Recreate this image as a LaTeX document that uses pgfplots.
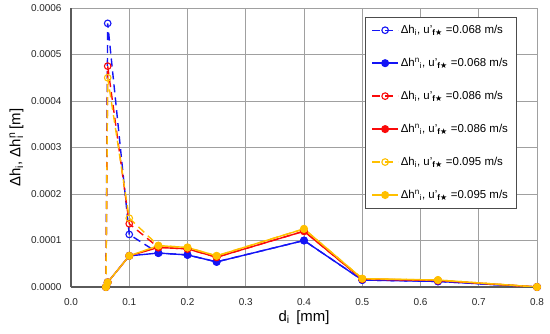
\documentclass[border=0pt]{standalone}
\usepackage{fontspec}
\setmainfont{Liberation Sans}
\newfontfamily\djv{DejaVu Sans}
\usepackage{pgfplots}
\pgfplotsset{compat=1.18}
\definecolor{cblue}{RGB}{20,20,245}
\definecolor{cred}{RGB}{250,10,10}
\definecolor{cyel}{RGB}{255,192,0}
\definecolor{gridc}{RGB}{160,160,160}
\definecolor{axc}{RGB}{90,90,90}
\newcommand{\uf}{u'\textsubscript{\textbf{f}{\djv ★}}}
\begin{document}
\begin{tikzpicture}
\useasboundingbox (-71bp,-47bp) rectangle (479bp,287bp);
\begin{axis}[
  scale only axis, width=466bp, height=279bp,
  xmin=0, xmax=0.8, ymin=0, ymax=0.0006,
  xtick={0,0.1,...,0.8}, ytick={0,0.0001,...,0.0006},
  scaled y ticks=false, scaled x ticks=false,
  /pgf/number format/assume math mode=true,
  xticklabel style={/pgf/number format/fixed,/pgf/number format/fixed zerofill,/pgf/number format/precision=1, yshift=-8bp},
  yticklabel style={/pgf/number format/fixed,/pgf/number format/fixed zerofill,/pgf/number format/precision=4, xshift=-6bp},
  tick label style={font=\fontsize{10}{12}\selectfont, text=black!85},
  major tick length=0pt,
  grid=major, major grid style={gridc, line width=0.8bp},
  axis x line*=bottom, axis y line*=left,
  axis line style={axc, line width=1.6bp, -},
  xlabel={d\textsubscript{i}\, [mm]}, ylabel={Δh\textsubscript{i}, Δh\rlap{\textsuperscript{n}}\textsubscript{i}\, [m]},
  label style={font=\fontsize{15}{18}\selectfont},
  xlabel style={at={(axis description cs:0.5,0)}, anchor=north, yshift=-20bp},
  ylabel style={at={(axis description cs:0,0.5)}, anchor=south, yshift=44bp, xshift=0bp},
  legend style={at={(0.631,0.968)}, anchor=north west, font=\fontsize{11.5}{14}\selectfont,
    draw=black!70, line width=0.8bp, row sep=19bp, inner sep=6bp,
    cells={anchor=west}},
  legend image code/.code={
    \draw[#1] (0bp,0bp) -- (26bp,0bp);
    \draw[#1, solid] plot coordinates {(13bp,0bp)};
  },
  every axis plot/.append style={line width=1.4bp, mark size=3.3bp},
  op/.style={dash pattern=on 8bp off 5bp, mark=o, mark options={solid, line width=1.1bp, fill=white}},
  fi/.style={solid, mark=*, mark options={solid}},
]
\addplot[cblue, op] coordinates {(0.06,0) (0.063,0.000567) (0.1,0.000113) (0.15,0.000073) (0.2,0.000069) (0.25,0.000054) (0.4,0.0001) (0.5,0.000015) (0.63,0.000012) (0.8,0)};
\addlegendentry{Δh\textsubscript{i}, \uf\ =0.068 m/s}
\addplot[cblue, fi] coordinates {(0.06,0) (0.063,0.00001) (0.1,0.000067) (0.15,0.000073) (0.2,0.000069) (0.25,0.000054) (0.4,0.0001) (0.5,0.000015) (0.63,0.000012) (0.8,0)};
\addlegendentry{Δh\textsuperscript{n}\textsubscript{i}, \uf\ =0.068 m/s}
\addplot[cred, op] coordinates {(0.06,0) (0.063,0.000475) (0.1,0.000136) (0.15,0.000085) (0.2,0.000082) (0.25,0.000064) (0.4,0.00012) (0.5,0.000017) (0.63,0.000014) (0.8,0)};
\addlegendentry{Δh\textsubscript{i}, \uf\ =0.086 m/s}
\addplot[cred, fi] coordinates {(0.06,0) (0.063,0.00001) (0.1,0.000067) (0.15,0.000085) (0.2,0.000082) (0.25,0.000064) (0.4,0.00012) (0.5,0.000017) (0.63,0.000014) (0.8,0)};
\addlegendentry{Δh\textsuperscript{n}\textsubscript{i}, \uf\ =0.086 m/s}
\addplot[cyel, op] coordinates {(0.06,0) (0.063,0.00045) (0.1,0.000148) (0.15,0.000089) (0.2,0.000085) (0.25,0.000067) (0.4,0.000125) (0.5,0.000018) (0.63,0.000015) (0.8,0)};
\addlegendentry{Δh\textsubscript{i}, \uf\ =0.095 m/s}
\addplot[cyel, fi] coordinates {(0.06,0) (0.063,0.00001) (0.1,0.000067) (0.15,0.000089) (0.2,0.000085) (0.25,0.000067) (0.4,0.000125) (0.5,0.000018) (0.63,0.000015) (0.8,0)};
\addlegendentry{Δh\textsuperscript{n}\textsubscript{i}, \uf\ =0.095 m/s}
\end{axis}
\end{tikzpicture}
\end{document}
